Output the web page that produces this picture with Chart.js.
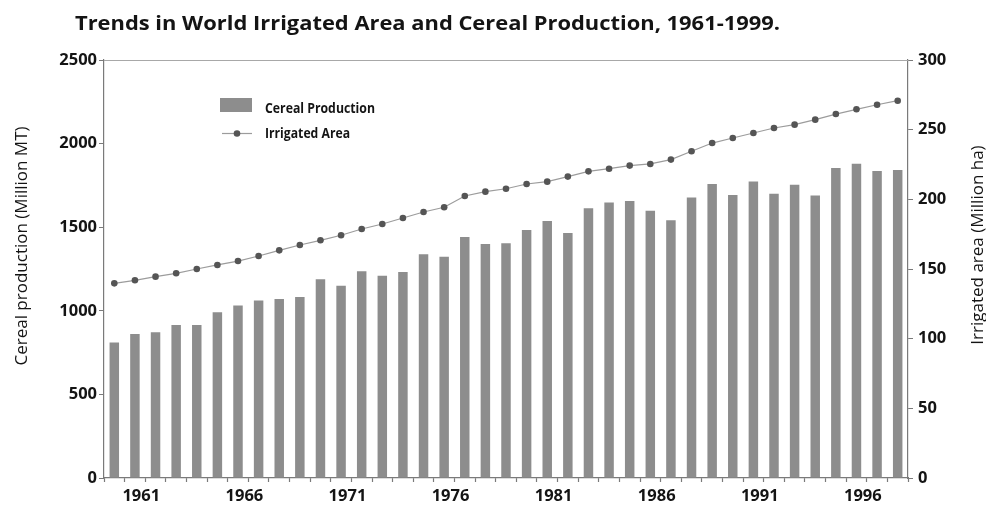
<!DOCTYPE html>
<html>
<head>
<meta charset="utf-8">
<script src="https://cdn.jsdelivr.net/npm/chart.js@4.4.1/dist/chart.umd.min.js"></script>
<style>
  html, body { margin: 0; padding: 0; background: #fff; }
</style>
</head>
<body>
<canvas id="cerealChart" width="986" height="508"></canvas>
<script>
const years = ['1961','1962','1963','1964','1965','1966','1967','1968','1969','1970',
  '1971','1972','1973','1974','1975','1976','1977','1978','1979','1980',
  '1981','1982','1983','1984','1985','1986','1987','1988','1989','1990',
  '1991','1992','1993','1994','1995','1996','1997','1998','1999'];
const yearTicks = ['1961','1966','1971','1976','1981','1986','1991','1996'];

// million MT
const cerealProduction = [810, 861, 871, 915, 915, 991, 1031, 1061, 1071, 1083,
  1188, 1150, 1236, 1210, 1232, 1338, 1324, 1441, 1400, 1404,
  1483, 1537, 1465, 1613, 1647, 1657, 1599, 1541, 1677, 1758,
  1693, 1774, 1700, 1754, 1689, 1854, 1880, 1836, 1842];

// million ha
const irrigatedArea = [139.7, 141.9, 144.5, 146.9, 150.0, 152.9, 155.7, 159.3, 163.4, 167.2,
  170.6, 174.2, 178.7, 182.3, 186.6, 190.9, 194.3, 202.4, 205.5, 207.6,
  211.0, 212.7, 216.3, 220.1, 222.0, 224.2, 225.4, 228.5, 234.5, 240.4,
  244.0, 247.6, 251.2, 253.6, 257.2, 261.2, 264.6, 267.9, 270.8];

const leftTicks = [0, 500, 1000, 1500, 2000, 2500];
const rightTicks = [0, 50, 100, 150, 200, 250, 300];

const chartTitle = 'Trends in World Irrigated Area and Cereal Production, 1961-1999.';
const leftTitle = 'Cereal production (Million MT)';
const rightTitle = 'Irrigated area (Million ha)';

const axisColor = '#7a7a7a';
const textColor = '#141414';
const tickFont = { family: '"Open Sans", sans-serif', size: 16.5, weight: 'bold' };

// draw text squeezed to a given width (the original uses a condensed face)
function fitText(c, text, x, y, w) {
  const m = c.measureText(text).width;
  c.save();
  c.translate(x, y);
  c.scale(w / m, 1);
  c.fillText(text, 0, 0);
  c.restore();
}

const decorations = {
  id: 'decorations',
  afterDraw(chart) {
    const c = chart.ctx;
    const area = chart.chartArea;
    c.save();

    // top frame line
    c.strokeStyle = '#a8a8a8';
    c.lineWidth = 1;
    c.beginPath();
    c.moveTo(area.left, area.top + 0.5);
    c.lineTo(area.right, area.top + 0.5);
    c.stroke();

    c.fillStyle = textColor;
    c.textAlign = 'left';
    c.textBaseline = 'alphabetic';

    // title
    c.font = 'bold 20px "Open Sans", sans-serif';
    fitText(c, chartTitle, 75, 29.5, 705);

    // axis titles, both read bottom to top
    c.font = '17px "Open Sans", sans-serif';
    c.textAlign = 'center';
    c.save();
    c.translate(26.5, 246);
    c.rotate(-Math.PI / 2);
    c.fillText(leftTitle, 0, 0);
    c.restore();
    c.save();
    c.translate(983, 245);
    c.rotate(-Math.PI / 2);
    c.fillText(rightTitle, 0, 0);
    c.restore();

    // legend
    const bar = chart.data.datasets[0];
    const line = chart.data.datasets[1];
    c.fillStyle = bar.backgroundColor;
    c.fillRect(220, 98, 32, 14);
    c.strokeStyle = line.borderColor;
    c.lineWidth = line.borderWidth;
    c.beginPath();
    c.moveTo(222, 133.5);
    c.lineTo(252, 133.5);
    c.stroke();
    c.fillStyle = line.pointBackgroundColor;
    c.beginPath();
    c.arc(237, 133.5, line.pointRadius, 0, Math.PI * 2);
    c.fill();

    c.fillStyle = textColor;
    c.textAlign = 'left';
    c.font = 'bold 14px "Open Sans", sans-serif';
    fitText(c, bar.label, 265, 113, 110);
    fitText(c, line.label, 265, 138, 85);

    c.restore();
  }
};

new Chart(document.getElementById('cerealChart'), {
  type: 'bar',
  data: {
    labels: years,
    datasets: [{
      label: 'Cereal Production',
      data: cerealProduction,
      backgroundColor: '#8d8d8d',
      barPercentage: 0.46,
      categoryPercentage: 1.0,
      yAxisID: 'y',
      order: 1
    }, {
      type: 'line',
      label: 'Irrigated Area',
      data: irrigatedArea,
      borderColor: '#9c9c9c',
      borderWidth: 1.2,
      pointRadius: 3.3,
      pointBackgroundColor: '#555555',
      pointBorderWidth: 0,
      tension: 0,
      yAxisID: 'y2',
      order: 0
    }]
  },
  options: {
    responsive: false,
    animation: false,
    devicePixelRatio: 1,
    layout: { padding: { top: 60, left: 0, right: 0, bottom: 0 } },
    plugins: {
      legend: { display: false },
      title: { display: false },
      tooltip: { enabled: false }
    },
    scales: {
      x: {
        offset: true,
        afterFit: (s) => { s.height = 30; },
        border: { color: axisColor, width: 1.2 },
        grid: { offset: true, drawOnChartArea: false, tickLength: 4, color: axisColor, tickWidth: 1.2 },
        ticks: {
          autoSkip: false,
          maxRotation: 0,
          labelOffset: 27,
          padding: 4,
          font: tickFont,
          color: textColor,
          callback: function (v, i) {
            const y = years[i];
            return yearTicks.includes(y) ? y : '';
          }
        }
      },
      y: {
        position: 'left',
        min: 0,
        max: 2500,
        afterFit: (s) => { s.width = 104; },
        afterBuildTicks: (s) => { s.ticks = leftTicks.map(v => ({ value: v })); },
        border: { color: axisColor, width: 1.2 },
        grid: { drawOnChartArea: false, tickLength: 5, color: axisColor },
        ticks: { font: tickFont, color: textColor, padding: 2, callback: (v) => String(v) }
      },
      y2: {
        position: 'right',
        min: 0,
        max: 300,
        afterFit: (s) => { s.width = 78; },
        afterBuildTicks: (s) => { s.ticks = rightTicks.map(v => ({ value: v })); },
        border: { color: axisColor, width: 1.2 },
        grid: { drawOnChartArea: false, tickLength: 5, color: axisColor },
        ticks: { font: tickFont, color: textColor, padding: 5, callback: (v) => String(v) }
      }
    }
  },
  plugins: [decorations]
});
</script>
</body>
</html>
